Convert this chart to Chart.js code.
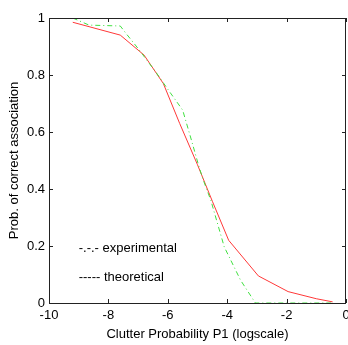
<!DOCTYPE html>
<html>
<head>
<meta charset="utf-8">
<script src="https://cdn.jsdelivr.net/npm/chart.js@4"></script>
<style>
  html, body { margin: 0; padding: 0; background: #fff; }
  #wrap { width: 348px; height: 345px; }
</style>
</head>
<body>
<div id="wrap"><canvas id="c"></canvas></div>
<script>
// theoretical curve (solid red)
const theoX = [-9.2, -7.6, -6.8, -6.15, -5.6, -5.0, -4.5, -3.95, -2.95, -1.95, -1.0, -0.45];
const theoY = [0.985, 0.94, 0.87, 0.77, 0.63, 0.485, 0.357, 0.22, 0.095, 0.04, 0.015, 0.004];

// experimental curve (dash-dot green)
const expX = [-9.2, -8.65, -7.6, -7.4, -7.0, -6.4, -6.0, -5.5, -5.2, -4.95, -4.8, -4.55, -4.1, -3.55, -3.05, -2.0, -0.5];
const expY = [1.0, 0.975, 0.972, 0.945, 0.893, 0.81, 0.75, 0.677, 0.57, 0.478, 0.43, 0.36, 0.197, 0.08, 0.0, 0.0, 0.0];

// in-plot legend text, placed in data coordinates
const noteLabels = ['-.-.- experimental', '----- theoretical'];
const noteX = [-9.0, -9.0];
const noteY = [0.19, 0.09];

const FONT = '"Liberation Sans", Arial, sans-serif';
const FSIZE = 13;

function toPoints(xs, ys) {
    return xs.map((x, i) => ({ x: x, y: ys[i] }));
}

// MATLAB-style box with inward ticks, plus the text notes
const boxPlugin = {
    id: 'box',
    afterDraw(chart) {
        const ctx = chart.ctx;
        const a = chart.chartArea;
        const xs = chart.scales.x;
        const ys = chart.scales.y;
        ctx.save();
        ctx.strokeStyle = '#222';
        ctx.lineWidth = 1;
        ctx.strokeRect(Math.round(a.left) + 0.5, Math.round(a.top) + 0.5,
            Math.round(a.right - a.left) - 1, Math.round(a.bottom - a.top));
        ctx.beginPath();
        xs.ticks.forEach(t => {
            const px = Math.round(xs.getPixelForValue(t.value)) + 0.5;
            ctx.moveTo(px, a.bottom); ctx.lineTo(px, a.bottom - 4);
            ctx.moveTo(px, a.top); ctx.lineTo(px, a.top + 4);
        });
        ys.ticks.forEach(t => {
            const py = Math.round(ys.getPixelForValue(t.value)) + 0.5;
            ctx.moveTo(a.left, py); ctx.lineTo(a.left + 4, py);
            ctx.moveTo(a.right, py); ctx.lineTo(a.right - 4, py);
        });
        ctx.stroke();

        ctx.fillStyle = '#000';
        ctx.font = FSIZE + 'px ' + FONT;
        ctx.textBaseline = 'middle';
        ctx.textAlign = 'left';
        noteLabels.forEach((s, i) => {
            ctx.fillText(s, xs.getPixelForValue(noteX[i]), ys.getPixelForValue(noteY[i]));
        });
        ctx.restore();
    }
};

new Chart(document.getElementById('c'), {
    type: 'line',
    data: {
        datasets: [
            {
                label: 'experimental',
                data: toPoints(expX, expY),
                borderColor: '#40e040',
                borderWidth: 1,
                borderDash: [5, 3, 1, 3],
                pointRadius: 0,
                tension: 0,
                fill: false
            },
            {
                label: 'theoretical',
                data: toPoints(theoX, theoY),
                borderColor: '#ff3838',
                borderWidth: 1,
                pointRadius: 0,
                tension: 0,
                fill: false
            }
        ]
    },
    options: {
        responsive: true,
        maintainAspectRatio: false,
        animation: false,
        layout: { padding: { top: 18, right: 2, left: 0, bottom: 0 } },
        plugins: {
            legend: { display: false },
            tooltip: { enabled: false }
        },
        scales: {
            x: {
                type: 'linear',
                min: -10,
                max: 0,
                ticks: { stepSize: 2, color: '#000', padding: 5, font: { family: FONT, size: FSIZE }, maxRotation: 0 },
                grid: { display: false, drawTicks: false },
                border: { display: false },
                title: { display: true, text: 'Clutter Probability P1 (logscale)', color: '#000', font: { family: FONT, size: FSIZE }, padding: { top: 2, bottom: 3 } },
                afterFit(scale) {
                    scale.height = 42;
                    scale.paddingRight = 0;
                    scale.paddingLeft = 0;
                }
            },
            y: {
                type: 'linear',
                min: 0,
                max: 1,
                ticks: {
                    stepSize: 0.2, color: '#000', padding: 4, font: { family: FONT, size: FSIZE },
                    callback: v => String(Math.round(v * 10) / 10)
                },
                grid: { display: false, drawTicks: false },
                border: { display: false },
                title: { display: true, text: 'Prob. of correct association', color: '#000', font: { family: FONT, size: FSIZE }, padding: { top: 7, bottom: 0 } },
                afterFit(scale) {
                    scale.width = 49;
                    scale.paddingTop = 0;
                    scale.paddingBottom = 0;
                }
            }
        }
    },
    plugins: [boxPlugin]
});
</script>
</body>
</html>
